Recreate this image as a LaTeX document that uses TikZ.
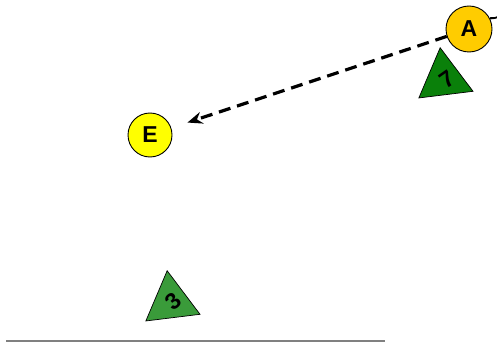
\documentclass[tikz,border=0pt]{standalone}
\usepackage{fontspec}
\setmainfont{Liberation Sans}
\usetikzlibrary{arrows.meta,shapes.geometric}
\definecolor{aorange}{HTML}{FFCC00}
\definecolor{eyellow}{HTML}{FFFF00}
\definecolor{darkgr}{HTML}{0A800A}
\definecolor{lightgr}{HTML}{3A9B3A}
\tikzset{
  letter/.style={circle,draw=black,line width=0.9pt,minimum size=46pt,inner sep=0pt,font=\fontsize{23}{23}\selectfont\bfseries},
  tri/.style={regular polygon,regular polygon sides=3,draw=black,line width=0.7pt,minimum size=63pt,inner sep=0pt},
  tritext/.style={font=\fontsize{23}{23}\selectfont\bfseries},
  conn/.style={line width=3.2pt,dash pattern=on 12pt off 7pt},
}
\begin{document}
\begin{tikzpicture}[x=1pt,y=-1pt]
\useasboundingbox (0,0) rectangle (497,342);
\clip (0,0) rectangle (497,342);
% triangles
\node[tri,fill=darkgr,rotate=7] (t7) at (444,79) {};
\node[tritext,rotate=35] (l7) at (447,79) {7};
\node[tri,fill=lightgr,rotate=7] (t3) at (171,302) {};
\node[tritext,rotate=40] (l3) at (173,301) {3};
% nodes
\node[letter,fill=aorange] (A) at (469,29) {A};
\node[letter,fill=eyellow,minimum size=44pt] (E) at (150,135) {E};
\coordinate (out) at (505,12);
% connectors
\draw[conn,shorten >=17pt,-{Stealth[length=15pt,width=12pt,inset=5pt]}] (A) -- (E);
\draw[line width=1.8pt] (A.25) .. controls (490,16) and (494,22) .. (out);
% bottom line
\coordinate (b1) at (6,341);
\coordinate (b2) at (385,341);
\draw[line width=1.5pt,color=black!50] (b1) -- (b2);
\end{tikzpicture}
\end{document}
